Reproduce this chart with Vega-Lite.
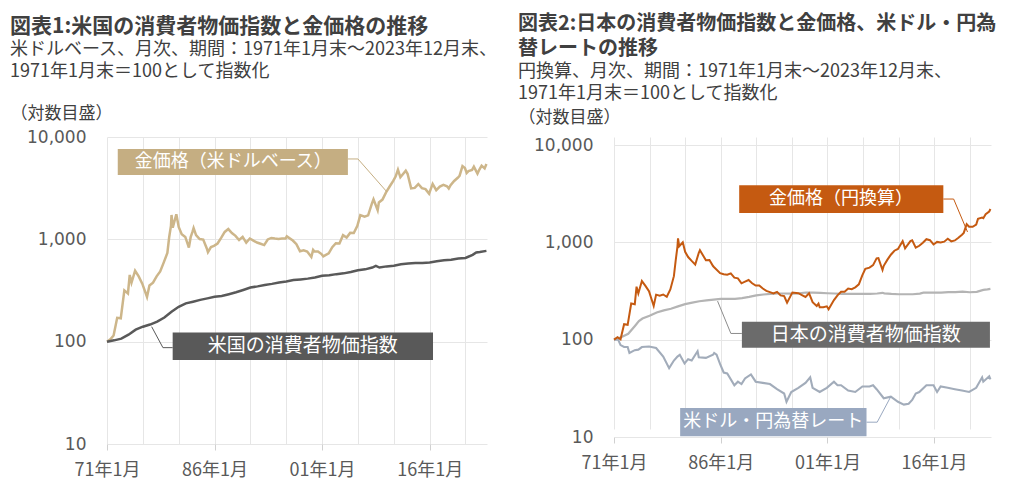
{
  "$schema": "https://vega.github.io/schema/vega-lite/v6.json",
  "padding": {"left": 10, "top": 14, "right": 6, "bottom": 4},
  "spacing": 20,
  "background": "white",
  "resolve": {"scale": {"color": "independent", "strokeWidth": "independent"}},
  "datasets": {
    "us": [
      {"year": 1971.0, "series": "gold", "value": 100}, {"year": 1971.5, "series": "gold", "value": 106}, {"year": 1971.92, "series": "gold", "value": 115},
      {"year": 1972.42, "series": "gold", "value": 171}, {"year": 1972.92, "series": "gold", "value": 169}, {"year": 1973.42, "series": "gold", "value": 317},
      {"year": 1973.92, "series": "gold", "value": 296}, {"year": 1974.17, "series": "gold", "value": 449}, {"year": 1974.42, "series": "gold", "value": 377},
      {"year": 1974.92, "series": "gold", "value": 493}, {"year": 1975.42, "series": "gold", "value": 435}, {"year": 1975.92, "series": "gold", "value": 369},
      {"year": 1976.58, "series": "gold", "value": 274}, {"year": 1976.92, "series": "gold", "value": 354}, {"year": 1977.42, "series": "gold", "value": 377},
      {"year": 1977.92, "series": "gold", "value": 435}, {"year": 1978.42, "series": "gold", "value": 485}, {"year": 1978.92, "series": "gold", "value": 596},
      {"year": 1979.42, "series": "gold", "value": 736}, {"year": 1979.67, "series": "gold", "value": 1047}, {"year": 1979.92, "series": "gold", "value": 1351},
      {"year": 1980.0, "series": "gold", "value": 1730}, {"year": 1980.17, "series": "gold", "value": 1303}, {"year": 1980.67, "series": "gold", "value": 1757},
      {"year": 1981.0, "series": "gold", "value": 1320}, {"year": 1981.42, "series": "gold", "value": 1121}, {"year": 1981.92, "series": "gold", "value": 1055},
      {"year": 1982.42, "series": "gold", "value": 831}, {"year": 1982.67, "series": "gold", "value": 1050}, {"year": 1982.92, "series": "gold", "value": 1182},
      {"year": 1983.08, "series": "gold", "value": 1290}, {"year": 1983.42, "series": "gold", "value": 1100}, {"year": 1983.92, "series": "gold", "value": 1008},
      {"year": 1984.42, "series": "gold", "value": 995}, {"year": 1984.92, "series": "gold", "value": 815}, {"year": 1985.08, "series": "gold", "value": 750},
      {"year": 1985.5, "series": "gold", "value": 840}, {"year": 1985.92, "series": "gold", "value": 863}, {"year": 1986.42, "series": "gold", "value": 910},
      {"year": 1986.92, "series": "gold", "value": 1032}, {"year": 1987.42, "series": "gold", "value": 1182}, {"year": 1987.92, "series": "gold", "value": 1260},
      {"year": 1988.42, "series": "gold", "value": 1153}, {"year": 1988.92, "series": "gold", "value": 1082}, {"year": 1989.42, "series": "gold", "value": 984},
      {"year": 1989.92, "series": "gold", "value": 1058}, {"year": 1990.42, "series": "gold", "value": 929}, {"year": 1990.92, "series": "gold", "value": 1018},
      {"year": 1991.42, "series": "gold", "value": 971}, {"year": 1991.92, "series": "gold", "value": 931}, {"year": 1992.42, "series": "gold", "value": 905},
      {"year": 1992.92, "series": "gold", "value": 879}, {"year": 1993.42, "series": "gold", "value": 997}, {"year": 1993.92, "series": "gold", "value": 1032},
      {"year": 1994.42, "series": "gold", "value": 1018}, {"year": 1994.92, "series": "gold", "value": 1010}, {"year": 1995.42, "series": "gold", "value": 1021},
      {"year": 1995.92, "series": "gold", "value": 1021}, {"year": 1996.08, "series": "gold", "value": 1069}, {"year": 1996.92, "series": "gold", "value": 974},
      {"year": 1997.42, "series": "gold", "value": 897}, {"year": 1997.92, "series": "gold", "value": 765}, {"year": 1998.42, "series": "gold", "value": 781},
      {"year": 1998.92, "series": "gold", "value": 760}, {"year": 1999.5, "series": "gold", "value": 673}, {"year": 1999.75, "series": "gold", "value": 789},
      {"year": 1999.92, "series": "gold", "value": 765}, {"year": 2000.42, "series": "gold", "value": 760}, {"year": 2000.92, "series": "gold", "value": 718},
      {"year": 2001.17, "series": "gold", "value": 681}, {"year": 2001.92, "series": "gold", "value": 731}, {"year": 2002.42, "series": "gold", "value": 839},
      {"year": 2002.92, "series": "gold", "value": 916}, {"year": 2003.42, "series": "gold", "value": 913}, {"year": 2003.92, "series": "gold", "value": 1098},
      {"year": 2004.42, "series": "gold", "value": 1042}, {"year": 2004.92, "series": "gold", "value": 1156}, {"year": 2005.42, "series": "gold", "value": 1153},
      {"year": 2005.92, "series": "gold", "value": 1354}, {"year": 2006.33, "series": "gold", "value": 1723}, {"year": 2006.92, "series": "gold", "value": 1668},
      {"year": 2007.42, "series": "gold", "value": 1715}, {"year": 2007.92, "series": "gold", "value": 2206}, {"year": 2008.17, "series": "gold", "value": 2462},
      {"year": 2008.75, "series": "gold", "value": 1926}, {"year": 2008.92, "series": "gold", "value": 2296}, {"year": 2009.42, "series": "gold", "value": 2446},
      {"year": 2009.92, "series": "gold", "value": 2871}, {"year": 2010.42, "series": "gold", "value": 3282}, {"year": 2010.92, "series": "gold", "value": 3720},
      {"year": 2011.25, "series": "gold", "value": 4106}, {"year": 2011.58, "series": "gold", "value": 4784}, {"year": 2011.92, "series": "gold", "value": 4040},
      {"year": 2012.67, "series": "gold", "value": 4686}, {"year": 2012.92, "series": "gold", "value": 4372}, {"year": 2013.42, "series": "gold", "value": 3145},
      {"year": 2013.92, "series": "gold", "value": 3179}, {"year": 2014.42, "series": "gold", "value": 3470}, {"year": 2014.92, "series": "gold", "value": 3164},
      {"year": 2015.42, "series": "gold", "value": 3092}, {"year": 2015.92, "series": "gold", "value": 2797}, {"year": 2016.42, "series": "gold", "value": 3483},
      {"year": 2016.92, "series": "gold", "value": 3024}, {"year": 2017.42, "series": "gold", "value": 3277}, {"year": 2017.92, "series": "gold", "value": 3406},
      {"year": 2018.42, "series": "gold", "value": 3298}, {"year": 2018.67, "series": "gold", "value": 3132}, {"year": 2018.92, "series": "gold", "value": 3375},
      {"year": 2019.42, "series": "gold", "value": 3718}, {"year": 2019.92, "series": "gold", "value": 3997}, {"year": 2020.17, "series": "gold", "value": 4164},
      {"year": 2020.58, "series": "gold", "value": 5201}, {"year": 2020.92, "series": "gold", "value": 4982}, {"year": 2021.17, "series": "gold", "value": 4462},
      {"year": 2021.42, "series": "gold", "value": 4652}, {"year": 2021.92, "series": "gold", "value": 4765}, {"year": 2022.17, "series": "gold", "value": 5124},
      {"year": 2022.67, "series": "gold", "value": 4380}, {"year": 2022.92, "series": "gold", "value": 4781}, {"year": 2023.25, "series": "gold", "value": 5251},
      {"year": 2023.67, "series": "gold", "value": 4937}, {"year": 2023.92, "series": "gold", "value": 5441},
      {"year": 1971.0, "series": "cpi", "value": 100}, {"year": 1972.0, "series": "cpi", "value": 103}, {"year": 1973.0, "series": "cpi", "value": 107},
      {"year": 1974.0, "series": "cpi", "value": 117}, {"year": 1975.0, "series": "cpi", "value": 131}, {"year": 1976.0, "series": "cpi", "value": 140},
      {"year": 1977.0, "series": "cpi", "value": 147}, {"year": 1978.0, "series": "cpi", "value": 157}, {"year": 1979.0, "series": "cpi", "value": 172},
      {"year": 1980.0, "series": "cpi", "value": 196}, {"year": 1981.0, "series": "cpi", "value": 219}, {"year": 1982.0, "series": "cpi", "value": 237},
      {"year": 1983.0, "series": "cpi", "value": 246}, {"year": 1984.0, "series": "cpi", "value": 256}, {"year": 1985.0, "series": "cpi", "value": 265},
      {"year": 1986.0, "series": "cpi", "value": 275}, {"year": 1987.0, "series": "cpi", "value": 279}, {"year": 1988.0, "series": "cpi", "value": 291},
      {"year": 1989.0, "series": "cpi", "value": 304}, {"year": 1990.0, "series": "cpi", "value": 320}, {"year": 1991.0, "series": "cpi", "value": 338},
      {"year": 1992.0, "series": "cpi", "value": 347}, {"year": 1993.0, "series": "cpi", "value": 358}, {"year": 1994.0, "series": "cpi", "value": 367},
      {"year": 1995.0, "series": "cpi", "value": 378}, {"year": 1996.0, "series": "cpi", "value": 388}, {"year": 1997.0, "series": "cpi", "value": 400},
      {"year": 1998.0, "series": "cpi", "value": 406}, {"year": 1999.0, "series": "cpi", "value": 413}, {"year": 2000.0, "series": "cpi", "value": 424},
      {"year": 2001.0, "series": "cpi", "value": 440}, {"year": 2002.0, "series": "cpi", "value": 445}, {"year": 2003.0, "series": "cpi", "value": 457},
      {"year": 2004.0, "series": "cpi", "value": 465}, {"year": 2005.0, "series": "cpi", "value": 479}, {"year": 2006.0, "series": "cpi", "value": 498},
      {"year": 2007.0, "series": "cpi", "value": 509}, {"year": 2008.0, "series": "cpi", "value": 530}, {"year": 2008.5, "series": "cpi", "value": 550},
      {"year": 2009.0, "series": "cpi", "value": 530}, {"year": 2010.0, "series": "cpi", "value": 544}, {"year": 2011.0, "series": "cpi", "value": 553},
      {"year": 2012.0, "series": "cpi", "value": 570}, {"year": 2013.0, "series": "cpi", "value": 579}, {"year": 2014.0, "series": "cpi", "value": 588},
      {"year": 2015.0, "series": "cpi", "value": 587}, {"year": 2016.0, "series": "cpi", "value": 595}, {"year": 2017.0, "series": "cpi", "value": 610},
      {"year": 2018.0, "series": "cpi", "value": 623}, {"year": 2019.0, "series": "cpi", "value": 632}, {"year": 2020.0, "series": "cpi", "value": 648},
      {"year": 2021.0, "series": "cpi", "value": 657}, {"year": 2022.0, "series": "cpi", "value": 706}, {"year": 2022.5, "series": "cpi", "value": 744},
      {"year": 2023.0, "series": "cpi", "value": 752}, {"year": 2023.92, "series": "cpi", "value": 771}
    ],
    "jp": [
      {"year": 1971.0, "series": "cpi", "value": 100}, {"year": 1972.0, "series": "cpi", "value": 106}, {"year": 1973.0, "series": "cpi", "value": 115},
      {"year": 1974.0, "series": "cpi", "value": 140}, {"year": 1974.5, "series": "cpi", "value": 155}, {"year": 1975.0, "series": "cpi", "value": 165},
      {"year": 1976.0, "series": "cpi", "value": 176}, {"year": 1977.0, "series": "cpi", "value": 190}, {"year": 1978.0, "series": "cpi", "value": 200},
      {"year": 1979.0, "series": "cpi", "value": 208}, {"year": 1980.0, "series": "cpi", "value": 220}, {"year": 1981.0, "series": "cpi", "value": 232},
      {"year": 1982.0, "series": "cpi", "value": 240}, {"year": 1983.0, "series": "cpi", "value": 248}, {"year": 1984.0, "series": "cpi", "value": 253},
      {"year": 1985.0, "series": "cpi", "value": 258}, {"year": 1986.0, "series": "cpi", "value": 262}, {"year": 1987.0, "series": "cpi", "value": 262},
      {"year": 1988.0, "series": "cpi", "value": 263}, {"year": 1989.0, "series": "cpi", "value": 267}, {"year": 1990.0, "series": "cpi", "value": 275},
      {"year": 1991.0, "series": "cpi", "value": 285}, {"year": 1992.0, "series": "cpi", "value": 291}, {"year": 1993.0, "series": "cpi", "value": 295},
      {"year": 1994.0, "series": "cpi", "value": 298}, {"year": 1995.0, "series": "cpi", "value": 298}, {"year": 1996.0, "series": "cpi", "value": 297},
      {"year": 1997.0, "series": "cpi", "value": 299}, {"year": 1998.0, "series": "cpi", "value": 305}, {"year": 1999.0, "series": "cpi", "value": 305},
      {"year": 2000.0, "series": "cpi", "value": 303}, {"year": 2001.0, "series": "cpi", "value": 300}, {"year": 2002.0, "series": "cpi", "value": 298},
      {"year": 2003.0, "series": "cpi", "value": 296}, {"year": 2004.0, "series": "cpi", "value": 296}, {"year": 2005.0, "series": "cpi", "value": 295},
      {"year": 2006.0, "series": "cpi", "value": 295}, {"year": 2007.0, "series": "cpi", "value": 296}, {"year": 2008.0, "series": "cpi", "value": 298},
      {"year": 2008.75, "series": "cpi", "value": 303}, {"year": 2009.0, "series": "cpi", "value": 299}, {"year": 2010.0, "series": "cpi", "value": 295},
      {"year": 2011.0, "series": "cpi", "value": 293}, {"year": 2012.0, "series": "cpi", "value": 293}, {"year": 2013.0, "series": "cpi", "value": 293},
      {"year": 2014.0, "series": "cpi", "value": 297}, {"year": 2014.5, "series": "cpi", "value": 304}, {"year": 2015.0, "series": "cpi", "value": 304},
      {"year": 2016.0, "series": "cpi", "value": 304}, {"year": 2017.0, "series": "cpi", "value": 304}, {"year": 2018.0, "series": "cpi", "value": 308},
      {"year": 2019.0, "series": "cpi", "value": 308}, {"year": 2020.0, "series": "cpi", "value": 311}, {"year": 2021.0, "series": "cpi", "value": 307},
      {"year": 2022.0, "series": "cpi", "value": 310}, {"year": 2022.92, "series": "cpi", "value": 325}, {"year": 2023.5, "series": "cpi", "value": 328},
      {"year": 2023.92, "series": "cpi", "value": 332},
      {"year": 1971.0, "series": "fx", "value": 100}, {"year": 1971.58, "series": "fx", "value": 100}, {"year": 1971.92, "series": "fx", "value": 88},
      {"year": 1972.42, "series": "fx", "value": 84}, {"year": 1972.92, "series": "fx", "value": 84}, {"year": 1973.17, "series": "fx", "value": 73},
      {"year": 1973.92, "series": "fx", "value": 78}, {"year": 1974.42, "series": "fx", "value": 79}, {"year": 1974.92, "series": "fx", "value": 84},
      {"year": 1975.92, "series": "fx", "value": 85}, {"year": 1976.92, "series": "fx", "value": 82}, {"year": 1977.92, "series": "fx", "value": 67},
      {"year": 1978.75, "series": "fx", "value": 51}, {"year": 1979.42, "series": "fx", "value": 61}, {"year": 1979.92, "series": "fx", "value": 67},
      {"year": 1980.25, "series": "fx", "value": 70}, {"year": 1980.92, "series": "fx", "value": 57}, {"year": 1981.42, "series": "fx", "value": 63},
      {"year": 1981.92, "series": "fx", "value": 61}, {"year": 1982.75, "series": "fx", "value": 76}, {"year": 1982.92, "series": "fx", "value": 66},
      {"year": 1983.92, "series": "fx", "value": 65}, {"year": 1984.92, "series": "fx", "value": 70}, {"year": 1985.08, "series": "fx", "value": 73},
      {"year": 1985.42, "series": "fx", "value": 70}, {"year": 1985.92, "series": "fx", "value": 56}, {"year": 1986.42, "series": "fx", "value": 46},
      {"year": 1986.92, "series": "fx", "value": 45}, {"year": 1987.92, "series": "fx", "value": 34}, {"year": 1988.42, "series": "fx", "value": 37},
      {"year": 1988.92, "series": "fx", "value": 35}, {"year": 1989.42, "series": "fx", "value": 40}, {"year": 1990.25, "series": "fx", "value": 44},
      {"year": 1990.92, "series": "fx", "value": 37}, {"year": 1991.92, "series": "fx", "value": 36}, {"year": 1992.92, "series": "fx", "value": 35},
      {"year": 1993.92, "series": "fx", "value": 31}, {"year": 1994.92, "series": "fx", "value": 28}, {"year": 1995.25, "series": "fx", "value": 23},
      {"year": 1995.92, "series": "fx", "value": 29}, {"year": 1996.92, "series": "fx", "value": 32}, {"year": 1997.92, "series": "fx", "value": 36},
      {"year": 1998.58, "series": "fx", "value": 41}, {"year": 1998.92, "series": "fx", "value": 32}, {"year": 1999.92, "series": "fx", "value": 29},
      {"year": 2000.92, "series": "fx", "value": 32}, {"year": 2001.92, "series": "fx", "value": 37}, {"year": 2002.42, "series": "fx", "value": 34},
      {"year": 2002.92, "series": "fx", "value": 34}, {"year": 2003.92, "series": "fx", "value": 30}, {"year": 2004.92, "series": "fx", "value": 29},
      {"year": 2005.92, "series": "fx", "value": 33}, {"year": 2006.92, "series": "fx", "value": 33}, {"year": 2007.42, "series": "fx", "value": 34},
      {"year": 2007.92, "series": "fx", "value": 31}, {"year": 2008.92, "series": "fx", "value": 25}, {"year": 2009.92, "series": "fx", "value": 26},
      {"year": 2010.92, "series": "fx", "value": 23}, {"year": 2011.75, "series": "fx", "value": 21.5}, {"year": 2012.42, "series": "fx", "value": 22},
      {"year": 2012.92, "series": "fx", "value": 24}, {"year": 2013.42, "series": "fx", "value": 28}, {"year": 2013.92, "series": "fx", "value": 29},
      {"year": 2014.92, "series": "fx", "value": 34}, {"year": 2015.42, "series": "fx", "value": 34}, {"year": 2015.92, "series": "fx", "value": 34},
      {"year": 2016.42, "series": "fx", "value": 29}, {"year": 2016.92, "series": "fx", "value": 33}, {"year": 2017.92, "series": "fx", "value": 32},
      {"year": 2018.92, "series": "fx", "value": 31}, {"year": 2019.92, "series": "fx", "value": 30}, {"year": 2020.92, "series": "fx", "value": 29},
      {"year": 2021.92, "series": "fx", "value": 32}, {"year": 2022.75, "series": "fx", "value": 41}, {"year": 2022.92, "series": "fx", "value": 37},
      {"year": 2023.75, "series": "fx", "value": 42}, {"year": 2023.92, "series": "fx", "value": 39},
      {"year": 1971.0, "series": "gold", "value": 100}, {"year": 1971.5, "series": "gold", "value": 106}, {"year": 1971.92, "series": "gold", "value": 101},
      {"year": 1972.42, "series": "gold", "value": 144}, {"year": 1972.92, "series": "gold", "value": 142}, {"year": 1973.42, "series": "gold", "value": 235},
      {"year": 1973.92, "series": "gold", "value": 231}, {"year": 1974.17, "series": "gold", "value": 350}, {"year": 1974.42, "series": "gold", "value": 298},
      {"year": 1974.92, "series": "gold", "value": 400}, {"year": 1975.42, "series": "gold", "value": 357}, {"year": 1975.92, "series": "gold", "value": 314},
      {"year": 1976.58, "series": "gold", "value": 222}, {"year": 1976.92, "series": "gold", "value": 290}, {"year": 1977.42, "series": "gold", "value": 283},
      {"year": 1977.92, "series": "gold", "value": 291}, {"year": 1978.42, "series": "gold", "value": 276}, {"year": 1978.92, "series": "gold", "value": 328},
      {"year": 1979.42, "series": "gold", "value": 449}, {"year": 1979.67, "series": "gold", "value": 649}, {"year": 1979.92, "series": "gold", "value": 905},
      {"year": 1980.0, "series": "gold", "value": 1100}, {"year": 1980.17, "series": "gold", "value": 912}, {"year": 1980.67, "series": "gold", "value": 1000},
      {"year": 1981.0, "series": "gold", "value": 800}, {"year": 1981.42, "series": "gold", "value": 706}, {"year": 1981.92, "series": "gold", "value": 644},
      {"year": 1982.42, "series": "gold", "value": 590}, {"year": 1982.92, "series": "gold", "value": 780}, {"year": 1983.08, "series": "gold", "value": 830},
      {"year": 1983.92, "series": "gold", "value": 655}, {"year": 1984.42, "series": "gold", "value": 657}, {"year": 1984.92, "series": "gold", "value": 571},
      {"year": 1985.08, "series": "gold", "value": 555}, {"year": 1985.92, "series": "gold", "value": 483}, {"year": 1986.42, "series": "gold", "value": 470},
      {"year": 1986.92, "series": "gold", "value": 464}, {"year": 1987.42, "series": "gold", "value": 480}, {"year": 1987.92, "series": "gold", "value": 434},
      {"year": 1988.42, "series": "gold", "value": 427}, {"year": 1988.92, "series": "gold", "value": 379}, {"year": 1989.42, "series": "gold", "value": 394},
      {"year": 1989.92, "series": "gold", "value": 410}, {"year": 1990.42, "series": "gold", "value": 380}, {"year": 1990.92, "series": "gold", "value": 360},
      {"year": 1991.42, "series": "gold", "value": 360}, {"year": 1991.92, "series": "gold", "value": 335}, {"year": 1992.42, "series": "gold", "value": 317},
      {"year": 1992.92, "series": "gold", "value": 308}, {"year": 1993.42, "series": "gold", "value": 299}, {"year": 1993.92, "series": "gold", "value": 310},
      {"year": 1994.42, "series": "gold", "value": 285}, {"year": 1994.92, "series": "gold", "value": 280}, {"year": 1995.33, "series": "gold", "value": 240},
      {"year": 1995.92, "series": "gold", "value": 290}, {"year": 1996.08, "series": "gold", "value": 305}, {"year": 1996.92, "series": "gold", "value": 300},
      {"year": 1997.42, "series": "gold", "value": 287}, {"year": 1997.92, "series": "gold", "value": 275}, {"year": 1998.42, "series": "gold", "value": 300},
      {"year": 1998.92, "series": "gold", "value": 243}, {"year": 1999.5, "series": "gold", "value": 222}, {"year": 1999.75, "series": "gold", "value": 235},
      {"year": 1999.92, "series": "gold", "value": 215}, {"year": 2000.42, "series": "gold", "value": 215}, {"year": 2000.92, "series": "gold", "value": 220},
      {"year": 2001.17, "series": "gold", "value": 205}, {"year": 2001.92, "series": "gold", "value": 255}, {"year": 2002.42, "series": "gold", "value": 285},
      {"year": 2002.92, "series": "gold", "value": 311}, {"year": 2003.42, "series": "gold", "value": 310}, {"year": 2003.92, "series": "gold", "value": 335},
      {"year": 2004.42, "series": "gold", "value": 330}, {"year": 2004.92, "series": "gold", "value": 345}, {"year": 2005.42, "series": "gold", "value": 370},
      {"year": 2005.92, "series": "gold", "value": 460}, {"year": 2006.33, "series": "gold", "value": 534}, {"year": 2006.92, "series": "gold", "value": 550},
      {"year": 2007.42, "series": "gold", "value": 583}, {"year": 2007.92, "series": "gold", "value": 684}, {"year": 2008.17, "series": "gold", "value": 689},
      {"year": 2008.75, "series": "gold", "value": 520}, {"year": 2008.92, "series": "gold", "value": 574}, {"year": 2009.42, "series": "gold", "value": 660},
      {"year": 2009.92, "series": "gold", "value": 746}, {"year": 2010.42, "series": "gold", "value": 820}, {"year": 2010.92, "series": "gold", "value": 856},
      {"year": 2011.58, "series": "gold", "value": 1029}, {"year": 2011.92, "series": "gold", "value": 869}, {"year": 2012.67, "series": "gold", "value": 1031},
      {"year": 2012.92, "series": "gold", "value": 1049}, {"year": 2013.42, "series": "gold", "value": 881}, {"year": 2013.92, "series": "gold", "value": 922},
      {"year": 2014.42, "series": "gold", "value": 989}, {"year": 2014.92, "series": "gold", "value": 1076}, {"year": 2015.42, "series": "gold", "value": 1051},
      {"year": 2015.92, "series": "gold", "value": 951}, {"year": 2016.42, "series": "gold", "value": 1010}, {"year": 2016.92, "series": "gold", "value": 998},
      {"year": 2017.42, "series": "gold", "value": 1016}, {"year": 2017.92, "series": "gold", "value": 1090}, {"year": 2018.42, "series": "gold", "value": 1022},
      {"year": 2018.92, "series": "gold", "value": 1046}, {"year": 2019.42, "series": "gold", "value": 1115}, {"year": 2019.92, "series": "gold", "value": 1199},
      {"year": 2020.17, "series": "gold", "value": 1249}, {"year": 2020.58, "series": "gold", "value": 1534}, {"year": 2020.92, "series": "gold", "value": 1445},
      {"year": 2021.42, "series": "gold", "value": 1442}, {"year": 2021.92, "series": "gold", "value": 1525}, {"year": 2022.17, "series": "gold", "value": 1742},
      {"year": 2022.75, "series": "gold", "value": 1796}, {"year": 2022.92, "series": "gold", "value": 1769}, {"year": 2023.25, "series": "gold", "value": 1943},
      {"year": 2023.75, "series": "gold", "value": 2074}, {"year": 2023.92, "series": "gold", "value": 2200}
    ]
  },
  "hconcat": [
    {
      "title": {
        "text": "図表1:米国の消費者物価指数と金価格の推移",
        "subtitle": ["米ドルベース、月次、期間：1971年1月末～2023年12月末、", "1971年1月末＝100として指数化"],
        "fontSize": 21,
        "offset": 23
      },
      "width": 380,
      "height": 307,
      "resolve": {"axis": {"x": "independent", "y": "independent"}},
      "layer": [
        {
          "data": {"name": "us"},
          "mark": {"type": "line"},
          "encoding": {
            "x": {
              "field": "year", "type": "quantitative",
              "scale": {"domain": [1971, 2024], "nice": false, "zero": false},
              "axis": {
                "title": null, "grid": true, "labelFlush": false, "labelOverlap": false,
                "values": [1971, 1976, 1981, 1986, 1991, 1996, 2001, 2006, 2011, 2016, 2021],
                "labelExpr": "(datum.value - 1971) % 15 == 0 ? format(datum.value % 100, '02d') + '年1月' : ''",
                "ticks": true, "tickSize": 6, "tickColor": "#D0D0D0",
                "tickOpacity": {"condition": {"test": "(datum.value - 1971) % 15 == 0", "value": 1}, "value": 0},
                "labelPadding": 11
              }
            },
            "y": {
              "field": "value", "type": "quantitative",
              "scale": {"type": "log", "domain": [10, 10000], "nice": false},
              "axis": {
                "title": "（対数目盛）", "grid": true, "values": [10, 100, 1000, 10000], "format": ",",
                "titleAngle": 0, "titleAlign": "left", "titleBaseline": "middle", "titleX": -97, "titleY": -24,
                "labelPadding": 21
              }
            },
            "color": {"field": "series", "type": "nominal", "scale": {"domain": ["gold", "cpi"], "range": ["#CDB68A", "#595959"]}, "legend": null},
            "strokeWidth": {"value": 2.5}
          }
        },
        {
          "data": {"values": [{}]},
          "mark": {"type": "rect", "color": "#C5AE82"},
          "encoding": {"x": {"datum": 1972.5, "type": "quantitative", "axis": null}, "x2": {"datum": 2004.6}, "y": {"datum": 4260, "type": "quantitative", "axis": null}, "y2": {"datum": 7640}}
        },
        {
          "data": {"values": [{}]},
          "mark": {"type": "text", "color": "white", "fontSize": 18},
          "encoding": {"x": {"datum": 1988.6, "type": "quantitative", "axis": null}, "y": {"datum": 5700, "type": "quantitative", "axis": null}, "text": {"value": "金価格（米ドルベース）"}}
        },
        {
          "data": {"values": [{}]},
          "mark": {"type": "rule", "color": "#C5AE82", "strokeWidth": 1},
          "encoding": {"x": {"datum": 2004.6, "type": "quantitative", "axis": null}, "x2": {"datum": 2006.0}, "y": {"datum": 6100, "type": "quantitative", "axis": null}, "y2": {"datum": 6100}}
        },
        {
          "data": {"values": [{}]},
          "mark": {"type": "rule", "color": "#C5AE82", "strokeWidth": 1},
          "encoding": {"x": {"datum": 2006.0, "type": "quantitative", "axis": null}, "x2": {"datum": 2010.05}, "y": {"datum": 6100, "type": "quantitative", "axis": null}, "y2": {"datum": 2905}}
        },
        {
          "data": {"values": [{}]},
          "mark": {"type": "rect", "color": "#595959"},
          "encoding": {"x": {"datum": 1980.16, "type": "quantitative", "axis": null}, "x2": {"datum": 2016.47}, "y": {"datum": 66.3, "type": "quantitative", "axis": null}, "y2": {"datum": 123}}
        },
        {
          "data": {"values": [{}]},
          "mark": {"type": "text", "color": "white", "fontSize": 19},
          "encoding": {"x": {"datum": 1998.3, "type": "quantitative", "axis": null}, "y": {"datum": 90.4, "type": "quantitative", "axis": null}, "text": {"value": "米国の消費者物価指数"}}
        },
        {
          "data": {"values": [{}]},
          "mark": {"type": "rule", "color": "#595959", "strokeWidth": 1},
          "encoding": {"x": {"datum": 1977.23, "type": "quantitative", "axis": null}, "x2": {"datum": 1978.8}, "y": {"datum": 140, "type": "quantitative", "axis": null}, "y2": {"datum": 87.4}}
        },
        {
          "data": {"values": [{}]},
          "mark": {"type": "rule", "color": "#595959", "strokeWidth": 1},
          "encoding": {"x": {"datum": 1978.8, "type": "quantitative", "axis": null}, "x2": {"datum": 1980.16}, "y": {"datum": 87.4, "type": "quantitative", "axis": null}, "y2": {"datum": 87.4}}
        }
      ]
    },
    {
      "title": {
        "text": ["図表2:日本の消費者物価指数と金価格、米ドル・円為", "替レートの推移"],
        "subtitle": ["円換算、月次、期間：1971年1月末～2023年12月末、", "1971年1月末＝100として指数化"],
        "fontSize": 20,
        "offset": 5
      },
      "width": 377,
      "height": 300,
      "resolve": {"axis": {"x": "independent", "y": "independent"}},
      "layer": [
        {
          "data": {"name": "jp"},
          "mark": {"type": "line"},
          "encoding": {
            "x": {
              "field": "year", "type": "quantitative",
              "scale": {"domain": [1971, 2024], "nice": false, "zero": false},
              "axis": {
                "title": null, "grid": true, "labelFlush": false, "labelOverlap": false,
                "values": [1971, 1976, 1981, 1986, 1991, 1996, 2001, 2006, 2011, 2016, 2021],
                "labelExpr": "(datum.value - 1971) % 15 == 0 ? format(datum.value % 100, '02d') + '年1月' : ''",
                "ticks": true, "tickSize": 6, "tickColor": "#D0D0D0",
                "tickOpacity": {"condition": {"test": "(datum.value - 1971) % 15 == 0", "value": 1}, "value": 0},
                "labelPadding": 11
              }
            },
            "y": {
              "field": "value", "type": "quantitative",
              "scale": {"type": "log", "domain": [10, 10000], "nice": false, "range": [300, 8]},
              "axis": {
                "title": "（対数目盛）", "grid": true, "values": [10, 100, 1000, 10000], "format": ",",
                "titleAngle": 0, "titleAlign": "left", "titleBaseline": "middle", "titleX": -96, "titleY": -20,
                "labelPadding": 21
              }
            },
            "color": {"field": "series", "type": "nominal", "scale": {"domain": ["cpi", "fx", "gold"], "range": ["#B4B4B4", "#A2ACBA", "#C55A11"]}, "legend": null},
            "strokeWidth": {"field": "series", "type": "nominal", "scale": {"domain": ["cpi", "fx", "gold"], "range": [2.2, 2, 2.5]}, "legend": null}
          }
        },
        {
          "data": {"values": [{}]},
          "mark": {"type": "rect", "color": "#C55A11"},
          "encoding": {"x": {"datum": 1988.6, "type": "quantitative", "axis": null}, "x2": {"datum": 2017.3}, "y": {"datum": 2006, "type": "quantitative", "axis": null}, "y2": {"datum": 3860}}
        },
        {
          "data": {"values": [{}]},
          "mark": {"type": "text", "color": "white", "fontSize": 18},
          "encoding": {"x": {"datum": 2002.9, "type": "quantitative", "axis": null}, "y": {"datum": 2785, "type": "quantitative", "axis": null}, "text": {"value": "金価格（円換算）"}}
        },
        {
          "data": {"values": [{}]},
          "mark": {"type": "rule", "color": "#C55A11", "strokeWidth": 1},
          "encoding": {"x": {"datum": 2017.3, "type": "quantitative", "axis": null}, "x2": {"datum": 2018.75}, "y": {"datum": 2785, "type": "quantitative", "axis": null}, "y2": {"datum": 2785}}
        },
        {
          "data": {"values": [{}]},
          "mark": {"type": "rule", "color": "#C55A11", "strokeWidth": 1},
          "encoding": {"x": {"datum": 2018.75, "type": "quantitative", "axis": null}, "x2": {"datum": 2020.7}, "y": {"datum": 2785, "type": "quantitative", "axis": null}, "y2": {"datum": 1278}}
        },
        {
          "data": {"values": [{}]},
          "mark": {"type": "rect", "color": "#6B6B6B"},
          "encoding": {"x": {"datum": 1988.98, "type": "quantitative", "axis": null}, "x2": {"datum": 2023.85}, "y": {"datum": 82.4, "type": "quantitative", "axis": null}, "y2": {"datum": 153}}
        },
        {
          "data": {"values": [{}]},
          "mark": {"type": "text", "color": "white", "fontSize": 19},
          "encoding": {"x": {"datum": 2006.4, "type": "quantitative", "axis": null}, "y": {"datum": 112, "type": "quantitative", "axis": null}, "text": {"value": "日本の消費者物価指数"}}
        },
        {
          "data": {"values": [{}]},
          "mark": {"type": "rule", "color": "#8C8C8C", "strokeWidth": 1},
          "encoding": {"x": {"datum": 1985.56, "type": "quantitative", "axis": null}, "x2": {"datum": 1987.43}, "y": {"datum": 249, "type": "quantitative", "axis": null}, "y2": {"datum": 115.8}}
        },
        {
          "data": {"values": [{}]},
          "mark": {"type": "rule", "color": "#8C8C8C", "strokeWidth": 1},
          "encoding": {"x": {"datum": 1987.43, "type": "quantitative", "axis": null}, "x2": {"datum": 1988.98}, "y": {"datum": 115.8, "type": "quantitative", "axis": null}, "y2": {"datum": 115.8}}
        },
        {
          "data": {"values": [{}]},
          "mark": {"type": "rect", "color": "#99A8C0"},
          "encoding": {"x": {"datum": 1980.3, "type": "quantitative", "axis": null}, "x2": {"datum": 2006.5}, "y": {"datum": 10.2, "type": "quantitative", "axis": null}, "y2": {"datum": 19.8}}
        },
        {
          "data": {"values": [{}]},
          "mark": {"type": "text", "color": "white", "fontSize": 18},
          "encoding": {"x": {"datum": 1993.4, "type": "quantitative", "axis": null}, "y": {"datum": 14.2, "type": "quantitative", "axis": null}, "text": {"value": "米ドル・円為替レート"}}
        },
        {
          "data": {"values": [{}]},
          "mark": {"type": "rule", "color": "#99A8C0", "strokeWidth": 1},
          "encoding": {"x": {"datum": 2006.5, "type": "quantitative", "axis": null}, "x2": {"datum": 2008.0}, "y": {"datum": 14.2, "type": "quantitative", "axis": null}, "y2": {"datum": 14.2}}
        },
        {
          "data": {"values": [{}]},
          "mark": {"type": "rule", "color": "#99A8C0", "strokeWidth": 1},
          "encoding": {"x": {"datum": 2008.0, "type": "quantitative", "axis": null}, "x2": {"datum": 2009.9}, "y": {"datum": 14.2, "type": "quantitative", "axis": null}, "y2": {"datum": 25.9}}
        }
      ]
    }
  ],
  "config": {
    "font": "Noto Sans CJK JP",
    "view": {"stroke": null},
    "axis": {
      "labelColor": "#595959",
      "titleFont": "Noto Sans CJK JP", "titleFontSize": 17, "titleFontWeight": "normal", "titleColor": "#404040",
      "gridColor": "#E6E6E6", "gridWidth": 1, "domain": false, "ticks": false
    },
    "axisX": {"labelFont": "Noto Sans CJK JP", "labelFontSize": 18},
    "axisY": {"labelFont": "DejaVu Sans", "labelFontSize": 17},
    "title": {
      "anchor": "start", "font": "Noto Sans CJK JP", "fontSize": 20, "fontWeight": "bold", "color": "#404040",
      "lineHeight": 25, "subtitleFont": "Noto Sans CJK JP", "subtitleFontSize": 18, "subtitleColor": "#404040",
      "subtitleLineHeight": 22, "subtitlePadding": 4
    }
  }
}
